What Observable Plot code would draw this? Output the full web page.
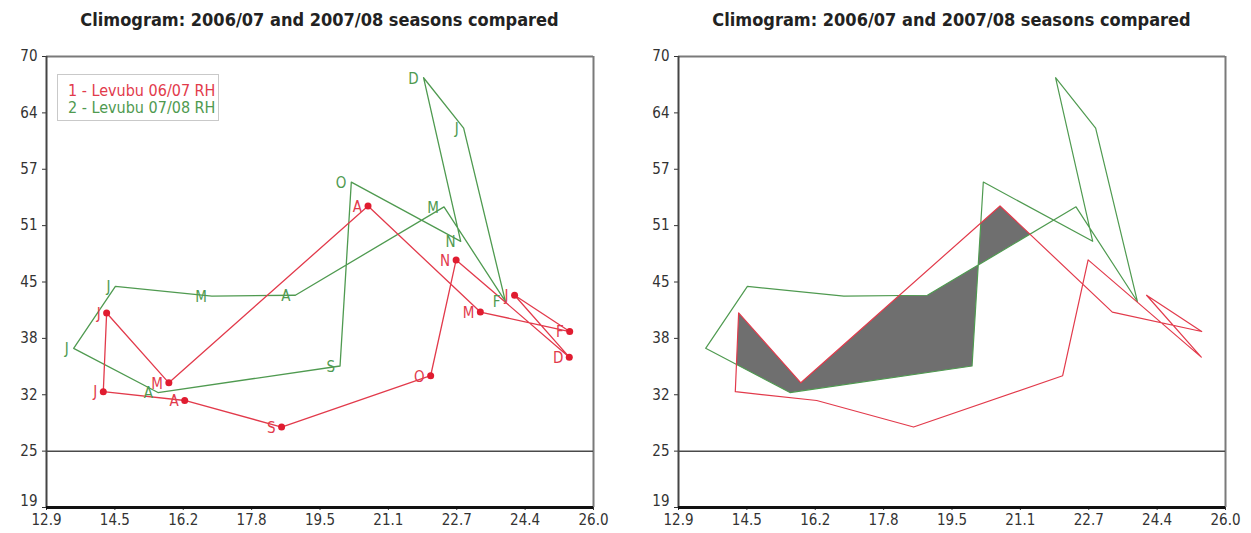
<!DOCTYPE html>
<html>
<head>
<meta charset="utf-8">
<script src="https://cdn.jsdelivr.net/npm/d3@7"></script>
<script src="https://cdn.jsdelivr.net/npm/@observablehq/plot@0.6"></script>
<style>
  body { margin: 0; background: #fff; width: 1251px; height: 533px; overflow: hidden; }
  #wrap { display: flex; }
  .panel { position: relative; }
  .panel svg { display: block; }
  .title {
    height: 40px; line-height: 40px; text-align: center; white-space: nowrap;
    font-family: "DejaVu Sans Condensed", "Liberation Sans", sans-serif;
    font-weight: bold; font-size: 18px; color: #222;
  }
  .legend {
    position: absolute; left: 57px; top: 74px;
    border: 1px solid #c9c9c9; background: #fff;
    padding: 7px 3px 4px 10px;
    font-family: "DejaVu Sans Condensed", "Liberation Sans", sans-serif;
    font-size: 16px; line-height: 17px; white-space: nowrap;
  }
</style>
</head>
<body>
<div id="wrap"></div>
<script>
// Monthly mean temperature (°C) against relative humidity (%), July to June.
const months = ["J", "A", "S", "O", "N", "D", "J", "F", "M", "A", "M", "J"];

const temp0607 = [14.26, 16.21, 18.53, 22.10, 22.71, 25.42, 24.11, 25.43, 23.29, 20.60, 15.83, 14.34];
const rh0607   = [32.1, 31.1, 28.1, 33.9, 47.0, 36.0, 43.0, 38.9, 41.1, 53.1, 33.1, 41.0];

const temp0708 = [13.55, 15.57, 19.93, 20.20, 22.82, 21.93, 22.89, 23.89, 22.42, 18.86, 16.86, 14.55];
const rh0708   = [37.0, 32.0, 35.0, 55.8, 49.1, 67.6, 61.9, 42.3, 53.0, 43.0, 42.9, 44.0];

const seriesNames  = ["1 - Levubu 06/07 RH", "2 - Levubu 07/08 RH"];
const seriesColors = ["#e23a4b", "#4f9a50"];

const titleText = "Climogram: 2006/07 and 2007/08 seasons compared";

const xDomain = [12.9, 26.0];
const yDomain = [19, 70];
const xTickLabels = ["12.9", "14.5", "16.2", "17.8", "19.5", "21.1", "22.7", "24.4", "26.0"];
const yTickLabels = ["19", "25", "32", "38", "45", "51", "57", "64", "70"];

// Axis ticks divide each domain into equal steps; the labels are the rounded values.
const steps = (domain, n) => Array.from({length: n}, (_, i) => domain[0] + i * (domain[1] - domain[0]) / (n - 1));
const xTickValues = steps(xDomain, xTickLabels.length);
const yTickValues = steps(yDomain, yTickLabels.length);
const xLabelOf = new Map(xTickValues.map((v, i) => [v, xTickLabels[i]]));
const yLabelOf = new Map(yTickValues.map((v, i) => [v, yTickLabels[i]]));

const rows = (temps, rhs) => months.map((m, i) => ({month: m, temp: temps[i], rh: rhs[i]}));
const season0607 = rows(temp0607, rh0607);
const season0708 = rows(temp0708, rh0708);

const FONT = "'DejaVu Sans Condensed', 'Liberation Sans', sans-serif";

function frameMarks() {
  return [
    Plot.ruleY([yDomain[1]], {stroke: "#7a7a7a", strokeWidth: 2}),
    Plot.ruleX([xDomain[1]], {stroke: "#7a7a7a", strokeWidth: 2}),
    Plot.ruleY([yTickValues[1]], {stroke: "#4a4a4a", strokeWidth: 1.5}),
    Plot.ruleX([xDomain[0]], {stroke: "#454545", strokeWidth: 2}),
    Plot.ruleY([yDomain[0]], {stroke: "#111", strokeWidth: 3})
  ];
}

function makePlot({width, marginLeft, marginRight, marks}) {
  const svg = Plot.plot({
    width, height: 493,
    marginLeft, marginRight, marginTop: 16, marginBottom: 26,
    style: {fontFamily: FONT, fontSize: "15px", color: "#333", background: "transparent", overflow: "visible"},
    x: {domain: xDomain, ticks: xTickValues, tickFormat: d => xLabelOf.get(d), tickSize: 3, tickPadding: 4, label: null},
    y: {domain: yDomain, ticks: yTickValues, tickFormat: d => yLabelOf.get(d), tickSize: 4, tickPadding: 5, label: null},
    marks
  });
  // Lift the lowest y label a little so it clears the first x label at the corner.
  svg.querySelectorAll("text").forEach(el => {
    if (el.textContent === yTickLabels[0]) {
      el.setAttribute("y", (parseFloat(el.getAttribute("y")) || 0) - 2);
    }
  });
  return svg;
}

function addPanel(plot, title, marginLeft, marginRight, width) {
  const panel = document.createElement("div");
  panel.className = "panel";
  panel.style.width = width + "px";
  const t = document.createElement("div");
  t.className = "title";
  t.style.paddingLeft = marginLeft + "px";
  t.style.paddingRight = marginRight + "px";
  t.textContent = title;
  panel.appendChild(t);
  panel.appendChild(plot);
  document.getElementById("wrap").appendChild(panel);
  return panel;
}

// Left: both seasons with month labels and the 2006/07 monthly points.
const leftPlot = makePlot({
  width: 625, marginLeft: 46, marginRight: 32,
  marks: [
    ...frameMarks(),
    Plot.line(season0708, {x: "temp", y: "rh", curve: "linear-closed", stroke: seriesColors[1], strokeWidth: 1.3}),
    Plot.line(season0607, {x: "temp", y: "rh", curve: "linear-closed", stroke: seriesColors[0], strokeWidth: 1.3}),
    Plot.dot(season0607, {x: "temp", y: "rh", r: 3.5, fill: "#e01c30", stroke: "none"}),
    Plot.text(season0607, {x: "temp", y: "rh", text: "month", textAnchor: "end", dx: -6, dy: 1, fill: seriesColors[0], fontSize: 15}),
    Plot.text(season0708, {x: "temp", y: "rh", text: "month", textAnchor: "end", dx: -5, dy: 1, fill: seriesColors[1], fontSize: 15})
  ]
});
const leftPanel = addPanel(leftPlot, titleText, 46, 32, 625);

const legend = document.createElement("div");
legend.className = "legend";
seriesNames.forEach((name, i) => {
  const row = document.createElement("div");
  row.textContent = name;
  row.style.color = seriesColors[i];
  legend.appendChild(row);
});
leftPanel.appendChild(legend);

// Right: the two loops with the area they share shaded grey.
const rightPlot = makePlot({
  width: 626, marginLeft: 53, marginRight: 26,
  marks: [
    ...frameMarks(),
    Plot.line(season0607, {x: "temp", y: "rh", curve: "linear-closed", fill: "#6f6f6f", stroke: "none"}),
    Plot.line(season0708, {x: "temp", y: "rh", curve: "linear-closed", stroke: seriesColors[1], strokeWidth: 1.2}),
    Plot.line(season0607, {x: "temp", y: "rh", curve: "linear-closed", stroke: seriesColors[0], strokeWidth: 1.2})
  ]
});

// Clip the filled 2006/07 loop by the 2007/08 loop to keep only their overlap.
(function shadeOverlap(svg) {
  const ns = "http://www.w3.org/2000/svg";
  const lineGroups = svg.querySelectorAll('g[aria-label="line"]');
  const fillPath = lineGroups[0].querySelector("path");
  const clipSource = lineGroups[1].querySelector("path");
  const defs = document.createElementNS(ns, "defs");
  const clip = document.createElementNS(ns, "clipPath");
  clip.setAttribute("id", "season-overlap");
  const cp = document.createElementNS(ns, "path");
  cp.setAttribute("d", clipSource.getAttribute("d"));
  cp.setAttribute("clip-rule", "evenodd");
  clip.appendChild(cp);
  defs.appendChild(clip);
  svg.insertBefore(defs, svg.firstChild);
  fillPath.setAttribute("fill-rule", "evenodd");
  fillPath.setAttribute("fill", "#6f6f6f");
  fillPath.setAttribute("clip-path", "url(#season-overlap)");
})(rightPlot);

addPanel(rightPlot, titleText, 53, 26, 626);
</script>
</body>
</html>
